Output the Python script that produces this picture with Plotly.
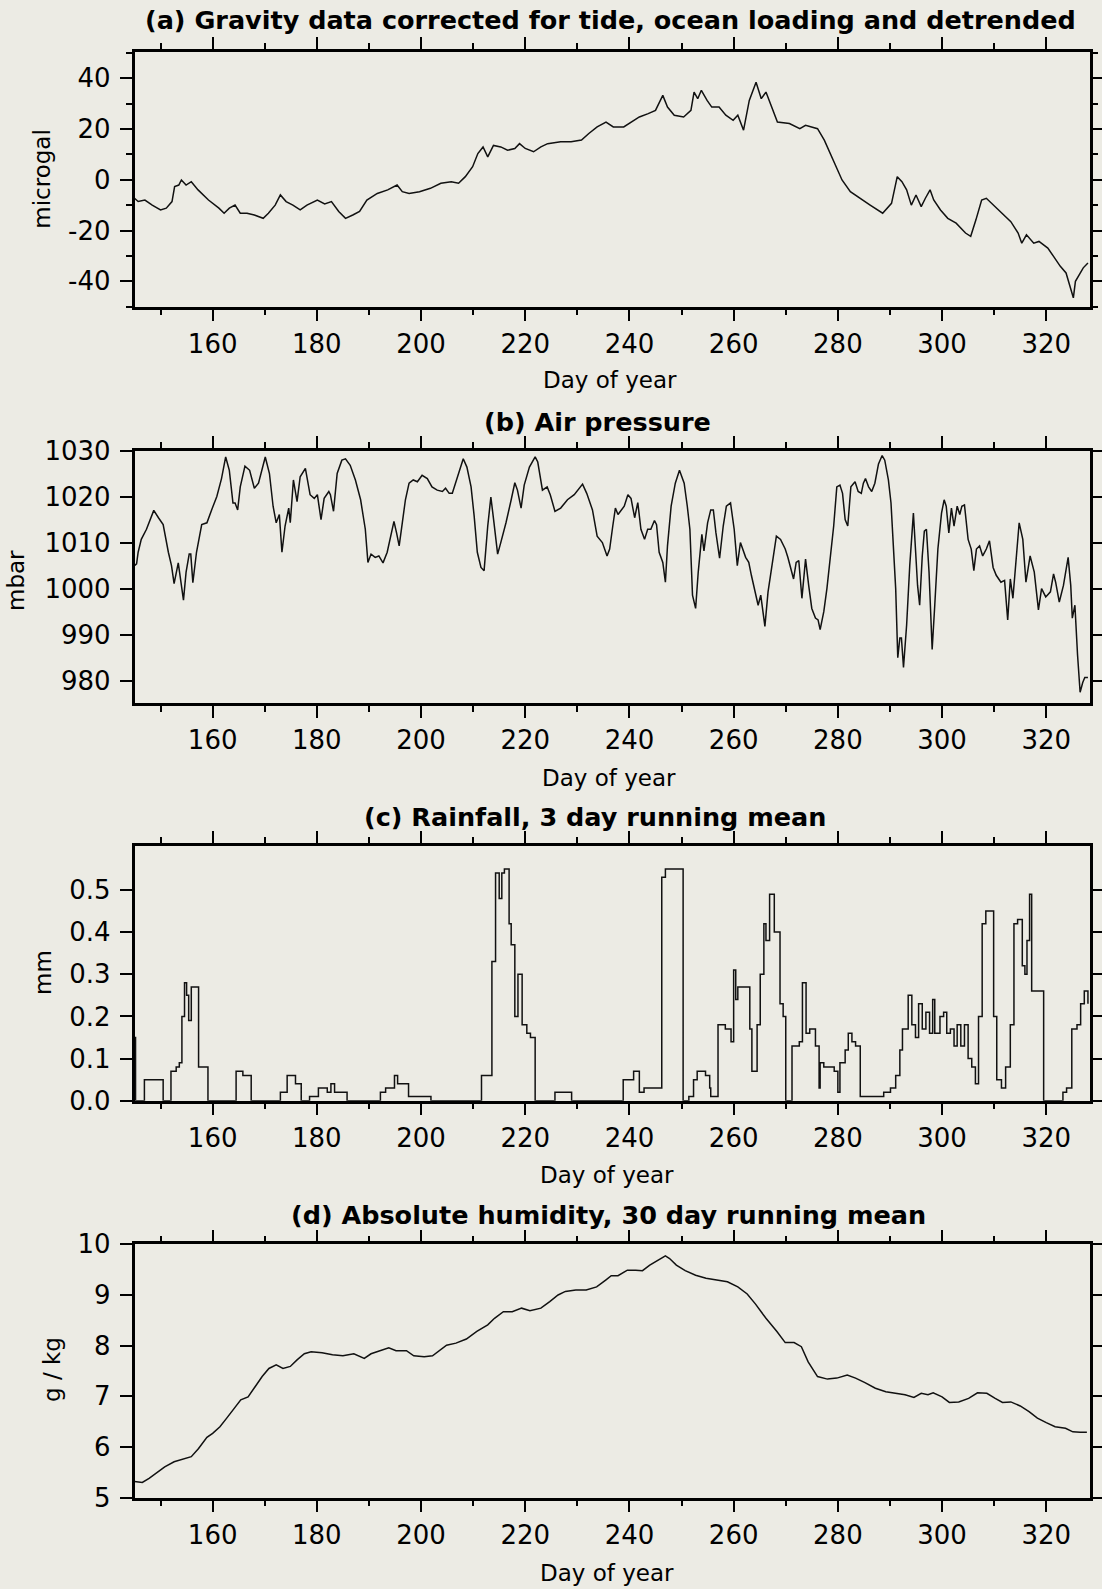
import plotly.graph_objects as go

# ---------------- data ----------------
# (a) gravity residual, microgal
GRAVITY = [
    (145.0, -7.3), (145.7, -8.6), (147.0, -8.0), (148.4, -10.0), (150.0, -11.9), (151.1, -11.2),
    (152.2, -8.6), (152.7, -2.7), (153.5, -2.1), (154.0, -0.1), (154.9, -2.1), (155.9, -0.8),
    (157.2, -4.0), (159.2, -8.0), (161.2, -11.2), (162.2, -13.2), (163.2, -11.2), (164.3, -10.0),
    (165.3, -13.2), (166.6, -13.2), (168.0, -13.9), (169.7, -15.2), (170.7, -13.2), (172.0, -10.0),
    (173.0, -6.0), (174.1, -8.6), (175.4, -10.0), (176.8, -11.9), (178.1, -10.0), (180.1, -8.0),
    (181.5, -9.5), (182.8, -8.6), (184.2, -12.5), (185.5, -15.2), (186.9, -13.9), (188.2, -12.5),
    (189.6, -8.0), (191.6, -5.4), (193.6, -4.0), (195.4, -2.1), (196.4, -4.7), (197.7, -5.4),
    (199.7, -4.7), (201.8, -3.4), (203.8, -1.4), (205.8, -0.8), (207.2, -1.4), (208.5, 1.2),
    (209.9, 5.1), (210.9, 10.3), (211.9, 12.9), (212.8, 9.0), (213.9, 13.5), (215.3, 12.9),
    (216.6, 11.6), (218.0, 12.3), (218.9, 14.2), (220.0, 12.3), (221.6, 11.0), (223.0, 12.9),
    (224.3, 14.2), (226.8, 14.9), (228.8, 14.9), (230.8, 15.6), (232.2, 18.2), (233.8, 20.8),
    (235.5, 22.7), (236.9, 20.8), (238.9, 20.8), (240.3, 22.7), (241.9, 24.7), (243.6, 26.0),
    (245.0, 27.3), (246.4, 33.2), (247.3, 28.6), (248.6, 25.4), (250.4, 24.7), (251.8, 27.3),
    (252.4, 34.5), (253.1, 31.9), (253.8, 35.2), (254.9, 31.2), (255.8, 28.6), (257.2, 28.6),
    (258.5, 25.4), (259.9, 23.4), (260.8, 25.4), (261.9, 19.5), (263.0, 31.2), (264.3, 38.4),
    (265.3, 31.9), (266.2, 34.5), (267.3, 28.6), (268.4, 22.7), (270.7, 22.1), (272.7, 20.1),
    (273.8, 21.4), (276.1, 20.1), (277.4, 15.6), (278.8, 9.0), (280.8, -0.1), (282.4, -4.7),
    (284.2, -7.3), (286.2, -10.0), (288.6, -13.2), (290.3, -9.3), (291.4, 1.2), (292.3, -0.8),
    (293.2, -4.0), (294.1, -10.0), (295.0, -6.0), (296.0, -10.6), (296.8, -7.3), (297.7, -4.0),
    (298.4, -8.0), (299.7, -11.9), (301.1, -15.2), (302.7, -17.1), (304.5, -21.0), (305.5, -22.3),
    (306.5, -15.8), (307.6, -8.0), (308.5, -7.3), (309.9, -10.0), (311.6, -13.2), (313.2, -16.5),
    (314.6, -21.0), (315.3, -25.0), (316.2, -21.7), (317.6, -25.0), (318.6, -24.3), (320.3, -26.9),
    (321.4, -30.2), (322.7, -34.1), (323.8, -36.7), (325.2, -46.5), (325.6, -40.0), (327.1, -34.7),
    (328.0, -32.8),
]

# (b) air pressure, mbar
PRESSURE = [
    (145.0, 1005.0), (145.4, 1005.4), (145.7, 1007.9), (146.3, 1010.7), (147.3, 1012.9), (148.7, 1017.0),
    (149.6, 1015.4), (150.5, 1013.9), (151.5, 1007.9), (152.1, 1005.0), (152.6, 1001.1), (153.4, 1005.6),
    (154.4, 997.5), (154.9, 1003.6), (155.5, 1007.5), (155.8, 1007.5), (156.2, 1001.3), (156.9, 1007.9),
    (157.9, 1013.9), (158.9, 1014.3), (159.8, 1017.1), (160.8, 1020.0), (161.7, 1023.9), (162.5, 1028.6),
    (163.2, 1025.7), (163.9, 1018.6), (164.3, 1018.6), (164.8, 1017.1), (165.3, 1022.1), (166.2, 1026.6),
    (167.1, 1025.7), (168.0, 1021.8), (168.8, 1022.9), (170.1, 1028.6), (170.9, 1025.0), (171.6, 1017.9),
    (172.2, 1014.3), (172.8, 1016.1), (173.3, 1007.9), (173.9, 1013.6), (174.6, 1017.5), (174.9, 1014.3),
    (175.5, 1023.6), (176.2, 1018.9), (176.8, 1024.3), (177.8, 1026.1), (178.7, 1020.4), (179.5, 1019.6),
    (180.1, 1020.4), (180.8, 1015.0), (181.4, 1019.6), (182.3, 1021.1), (182.6, 1020.4), (183.2, 1016.8),
    (183.9, 1025.0), (184.8, 1027.9), (185.5, 1028.2), (186.4, 1026.8), (187.4, 1023.6), (188.4, 1019.3),
    (189.3, 1012.9), (189.8, 1005.7), (190.4, 1007.5), (191.2, 1006.8), (191.9, 1007.1), (192.7, 1005.6),
    (193.5, 1007.9), (194.1, 1010.7), (194.8, 1014.6), (195.3, 1012.1), (195.8, 1009.3), (196.4, 1014.3),
    (197.0, 1019.3), (197.7, 1022.9), (198.5, 1023.6), (199.3, 1023.2), (200.2, 1024.6), (201.2, 1023.9),
    (202.1, 1022.1), (203.1, 1021.4), (204.1, 1021.1), (204.7, 1021.8), (205.4, 1020.7), (206.0, 1020.7),
    (206.6, 1022.9), (207.3, 1025.7), (208.1, 1028.2), (208.8, 1026.4), (209.6, 1022.1), (210.2, 1015.7),
    (210.8, 1007.9), (211.5, 1004.6), (212.1, 1003.9), (212.8, 1013.6), (213.4, 1019.9), (214.0, 1014.3),
    (214.7, 1007.5), (215.3, 1010.0), (216.3, 1014.3), (217.3, 1019.3), (218.0, 1023.0), (218.5, 1021.4),
    (219.2, 1017.5), (219.8, 1022.5), (220.8, 1026.4), (221.9, 1028.6), (222.4, 1027.5), (223.3, 1021.4),
    (224.2, 1022.1), (224.8, 1020.4), (225.7, 1016.8), (226.8, 1017.5), (228.1, 1019.3), (229.4, 1020.4),
    (230.4, 1021.8), (231.0, 1022.7), (231.8, 1020.7), (232.9, 1017.1), (233.8, 1011.4), (234.8, 1010.0),
    (235.7, 1007.1), (236.2, 1008.6), (236.8, 1013.6), (237.3, 1017.5), (237.8, 1016.1), (238.4, 1017.1),
    (239.0, 1017.9), (239.7, 1020.4), (240.3, 1019.6), (241.0, 1015.4), (241.6, 1018.7), (242.2, 1012.9),
    (242.9, 1010.7), (243.5, 1012.9), (244.1, 1012.9), (244.8, 1014.8), (245.2, 1013.9), (245.7, 1007.9),
    (246.4, 1005.7), (246.9, 1001.4), (247.3, 1009.3), (248.0, 1017.9), (248.8, 1022.9), (249.6, 1025.7),
    (250.5, 1022.9), (251.1, 1017.9), (251.6, 1012.9), (252.1, 998.6), (252.7, 995.7), (253.2, 1003.6),
    (253.9, 1011.8), (254.3, 1008.2), (255.0, 1014.3), (255.6, 1017.1), (256.1, 1017.1), (256.6, 1012.1),
    (257.3, 1006.6), (258.0, 1013.6), (258.6, 1017.9), (259.4, 1018.6), (260.1, 1012.9), (260.7, 1005.0),
    (261.3, 1010.0), (262.3, 1006.8), (262.9, 1005.7), (263.4, 1002.9), (264.2, 998.6), (264.7, 996.4),
    (265.2, 998.6), (265.6, 995.0), (266.0, 991.8), (266.6, 999.3), (267.4, 1005.4), (268.2, 1011.4),
    (269.0, 1010.7), (269.9, 1008.6), (270.4, 1006.8), (270.9, 1004.6), (271.5, 1002.1), (272.0, 1005.7),
    (272.5, 1006.1), (273.1, 997.9), (273.8, 1006.4), (274.4, 1000.7), (275.0, 995.7), (275.7, 993.6),
    (276.2, 993.2), (276.6, 991.1), (277.3, 995.0), (277.9, 1000.0), (278.5, 1005.7), (279.2, 1013.6),
    (279.8, 1022.1), (280.4, 1022.5), (280.9, 1020.7), (281.4, 1015.0), (281.9, 1013.6), (282.5, 1022.1),
    (283.3, 1023.2), (283.9, 1021.1), (284.5, 1020.7), (284.9, 1022.9), (285.3, 1023.9), (285.9, 1022.1),
    (286.5, 1021.1), (287.1, 1022.9), (287.8, 1027.1), (288.5, 1028.9), (289.0, 1027.9), (289.7, 1023.6),
    (290.2, 1018.6), (290.6, 1010.7), (291.1, 1000.0), (291.5, 985.0), (291.9, 989.3), (292.2, 989.3),
    (292.6, 982.9), (293.2, 992.1), (293.8, 1005.0), (294.5, 1016.4), (294.9, 1007.1), (295.3, 1000.7),
    (295.7, 996.4), (296.2, 1007.1), (296.6, 1012.5), (297.0, 1012.9), (297.5, 1003.6), (298.1, 986.8),
    (298.6, 996.4), (299.2, 1008.6), (299.9, 1016.4), (300.4, 1019.3), (300.8, 1017.9), (301.3, 1012.1),
    (301.8, 1017.5), (302.3, 1013.6), (302.9, 1017.9), (303.4, 1016.1), (303.8, 1017.9), (304.3, 1018.2),
    (305.0, 1010.7), (305.6, 1008.6), (306.1, 1003.9), (306.6, 1008.6), (307.2, 1009.3), (307.8, 1007.1),
    (308.5, 1008.6), (309.1, 1010.4), (309.8, 1004.6), (310.4, 1002.9), (311.3, 1001.4), (312.0, 1001.8),
    (312.6, 993.2), (313.1, 1002.1), (313.6, 997.9), (314.2, 1005.7), (314.8, 1014.3), (315.5, 1010.7),
    (316.1, 1001.4), (316.9, 1007.1), (317.7, 1003.6), (318.5, 995.4), (319.1, 1000.0), (319.9, 998.2),
    (320.8, 999.3), (321.4, 1003.2), (321.8, 1001.4), (322.5, 997.1), (323.3, 1000.7), (324.2, 1006.8),
    (324.7, 1000.7), (325.0, 993.6), (325.5, 996.4), (326.0, 985.7), (326.5, 977.5), (327.0, 979.6),
    (327.4, 980.7), (328.0, 980.7),
]

# (c) rainfall, 3 day running mean, mm (value holds until the next day listed)
RAINFALL = [
    (145.0, 0.15), (145.2, 0.0), (146.9, 0.05), (150.5, 0.0), (152.0, 0.07), (153.0, 0.08),
    (153.6, 0.09), (154.1, 0.20), (154.6, 0.28), (155.0, 0.25), (155.4, 0.19), (155.9, 0.27),
    (157.3, 0.08), (159.1, 0.0), (164.5, 0.07), (165.8, 0.06), (167.4, 0.0), (173.0, 0.02),
    (174.3, 0.06), (175.9, 0.04), (177.0, 0.0), (178.6, 0.01), (180.3, 0.03), (182.0, 0.02),
    (182.7, 0.04), (183.4, 0.02), (185.8, 0.0), (192.2, 0.02), (193.2, 0.03), (194.9, 0.06),
    (195.5, 0.04), (197.6, 0.01), (201.9, 0.0), (211.6, 0.06), (213.6, 0.33), (214.3, 0.54),
    (215.0, 0.48), (215.5, 0.54), (216.0, 0.55), (216.9, 0.42), (217.3, 0.37), (218.0, 0.20),
    (218.6, 0.30), (219.4, 0.18), (220.3, 0.16), (221.0, 0.15), (221.9, 0.0), (225.7, 0.02),
    (228.9, 0.0), (238.8, 0.05), (240.8, 0.07), (241.9, 0.02), (242.8, 0.03), (246.2, 0.53),
    (246.9, 0.55), (250.3, 0.0), (251.4, 0.01), (252.3, 0.05), (253.0, 0.07), (254.6, 0.06),
    (255.4, 0.03), (255.6, 0.01), (257.0, 0.18), (258.4, 0.17), (259.5, 0.14), (260.0, 0.31),
    (260.4, 0.24), (260.8, 0.27), (263.1, 0.17), (263.5, 0.07), (264.5, 0.18), (265.1, 0.30),
    (265.8, 0.42), (266.2, 0.38), (266.9, 0.49), (267.8, 0.40), (268.9, 0.23), (269.5, 0.20),
    (270.0, 0.0), (271.2, 0.13), (272.6, 0.14), (273.2, 0.28), (273.9, 0.16), (274.6, 0.17),
    (275.7, 0.13), (276.4, 0.03), (276.6, 0.09), (277.3, 0.08), (279.3, 0.07), (280.0, 0.02),
    (280.4, 0.09), (281.4, 0.12), (282.0, 0.16), (282.7, 0.14), (283.4, 0.13), (284.3, 0.01),
    (288.8, 0.02), (290.1, 0.03), (291.1, 0.06), (291.9, 0.12), (292.4, 0.17), (293.5, 0.25),
    (294.2, 0.18), (294.9, 0.15), (295.5, 0.23), (296.2, 0.17), (296.9, 0.21), (297.6, 0.16),
    (298.2, 0.24), (298.6, 0.16), (299.6, 0.20), (300.3, 0.21), (300.9, 0.16), (301.6, 0.17),
    (302.3, 0.13), (302.9, 0.18), (303.6, 0.13), (304.3, 0.18), (305.0, 0.10), (305.7, 0.08),
    (306.4, 0.04), (307.0, 0.20), (307.7, 0.42), (308.4, 0.45), (309.9, 0.20), (310.5, 0.05),
    (311.4, 0.03), (312.2, 0.08), (313.1, 0.18), (313.8, 0.42), (314.5, 0.43), (315.4, 0.32),
    (315.9, 0.30), (316.3, 0.38), (316.8, 0.49), (317.2, 0.26), (319.5, 0.0), (323.2, 0.02),
    (323.9, 0.03), (324.9, 0.17), (325.9, 0.18), (326.6, 0.23), (327.3, 0.26), (328.0, 0.23),
]

# (d) absolute humidity, 30 day running mean, g/kg
HUMIDITY = [
    (145.0, 5.32), (146.5, 5.30), (147.8, 5.38), (149.2, 5.48), (150.8, 5.61), (152.6, 5.71),
    (154.6, 5.78), (155.9, 5.81), (157.3, 5.97), (158.9, 6.19), (160.0, 6.27), (161.4, 6.40),
    (162.7, 6.57), (164.1, 6.76), (165.4, 6.93), (166.8, 6.99), (168.1, 7.19), (169.5, 7.39),
    (170.8, 7.55), (172.2, 7.62), (173.5, 7.55), (174.9, 7.59), (176.2, 7.72), (177.6, 7.84),
    (178.9, 7.88), (181.0, 7.86), (183.0, 7.82), (185.0, 7.80), (187.1, 7.84), (189.1, 7.75),
    (190.4, 7.84), (192.5, 7.91), (193.8, 7.96), (195.2, 7.90), (197.2, 7.90), (198.6, 7.80),
    (200.6, 7.78), (202.2, 7.80), (203.6, 7.91), (204.9, 8.01), (206.7, 8.05), (208.7, 8.13),
    (210.7, 8.28), (212.8, 8.41), (214.1, 8.54), (215.8, 8.67), (217.5, 8.67), (219.3, 8.74),
    (220.9, 8.69), (223.0, 8.74), (224.7, 8.87), (226.3, 9.00), (227.7, 9.07), (229.7, 9.10),
    (231.7, 9.10), (233.7, 9.16), (235.5, 9.30), (236.5, 9.38), (237.8, 9.38), (239.6, 9.49),
    (241.2, 9.49), (242.5, 9.48), (243.9, 9.59), (245.5, 9.69), (246.9, 9.77), (247.7, 9.72),
    (249.0, 9.59), (250.7, 9.48), (252.7, 9.39), (254.7, 9.33), (256.8, 9.30), (258.8, 9.26),
    (260.8, 9.16), (262.6, 9.02), (264.2, 8.82), (266.2, 8.54), (268.3, 8.28), (269.9, 8.06),
    (271.6, 8.06), (273.0, 7.98), (274.3, 7.68), (276.1, 7.39), (278.0, 7.34), (279.8, 7.36),
    (281.8, 7.42), (283.4, 7.36), (285.2, 7.27), (287.2, 7.16), (289.2, 7.09), (291.0, 7.06),
    (292.9, 7.03), (294.6, 6.98), (296.0, 7.06), (297.3, 7.03), (298.3, 7.07), (300.0, 6.99),
    (301.4, 6.88), (303.2, 6.89), (305.1, 6.96), (306.8, 7.07), (308.6, 7.06), (310.2, 6.96),
    (311.6, 6.88), (313.2, 6.89), (315.0, 6.81), (316.7, 6.70), (318.3, 6.57), (320.0, 6.48),
    (321.7, 6.40), (323.7, 6.37), (325.1, 6.30), (326.5, 6.29), (327.8, 6.29),
]

PANEL_TITLES = [
    "(a) Gravity data corrected for tide, ocean loading and detrended",
    "(b) Air pressure",
    "(c) Rainfall, 3 day running mean",
    "(d) Absolute humidity, 30 day running mean",
]
Y_TITLES = ["microgal", "mbar", "mm", "g / kg"]
X_TITLE = "Day of year"
GRAV_TICKS = [-40, -20, 0, 20, 40]
RAIN_TICKS = [0.0, 0.1, 0.2, 0.3, 0.4, 0.5]

# ---------------- layout geometry (pixels) ----------------
W, H = 1102, 1589
PLOT_L, PLOT_R = 134.5, 1089.5
PANELS = [  # top, bottom of each frame
    (51.7, 306.7),
    (450.5, 703.3),
    (845.7, 1100.7),
    (1244.3, 1497.7),
]
TITLE_POS = [(610, 20), (597, 421.7), (595, 816.7), (608, 1215)]
XTITLE_POS = [(610, 380), (609, 778), (607, 1175), (606.5, 1573)]
YTITLE_POS = [(41.7, 179), (16, 581), (43, 973), (52, 1370)]

BG = "#ecebe4"
FONT = "DejaVu Sans"


def fx(px):
    return px / W


def fy(py):
    return 1 - py / H


series = [GRAVITY, PRESSURE, RAINFALL, HUMIDITY]
fig = go.Figure()
for i, s in enumerate(series):
    xs = [p[0] for p in s]
    ys = [p[1] for p in s]
    fig.add_trace(go.Scatter(
        x=xs, y=ys, mode="lines",
        line=dict(color="#111111", width=1.5, shape="hv" if i == 2 else "linear"),
        xaxis="x" if i == 0 else f"x{i+1}",
        yaxis="y" if i == 0 else f"y{i+1}",
        showlegend=False, hoverinfo="skip",
    ))

common = dict(
    showline=True, linecolor="black", linewidth=2.5, mirror="ticks",
    ticks="outside", ticklen=12, tickwidth=1.6, tickcolor="black",
    showgrid=False, zeroline=False, automargin=False,
    tickfont=dict(family=FONT, size=26, color="black"),
)

y_specs = [
    dict(range=[-50, 50.4], tickmode="array", tickvals=GRAV_TICKS,
         ticktext=[str(v) for v in GRAV_TICKS],
         minor=dict(tickmode="linear", tick0=0, dtick=10, ticks="outside", ticklen=6,
                    tickwidth=1.6, tickcolor="black")),
    dict(range=[975.1, 1030], tickmode="linear", tick0=0, dtick=10),
    dict(range=[0, 0.605], tickmode="array", tickvals=RAIN_TICKS,
         ticktext=[f"{v:.1f}" for v in RAIN_TICKS]),
    dict(range=[5, 10], tickmode="linear", tick0=0, dtick=1),
]

layout = dict(
    width=W, height=H, margin=dict(l=0, r=0, t=0, b=0, pad=0),
    paper_bgcolor=BG, plot_bgcolor=BG, showlegend=False,
)
for i, (top, bot) in enumerate(PANELS):
    xk = "xaxis" if i == 0 else f"xaxis{i+1}"
    yk = "yaxis" if i == 0 else f"yaxis{i+1}"
    ya = "y" if i == 0 else f"y{i+1}"
    xa = "x" if i == 0 else f"x{i+1}"
    layout[xk] = dict(
        common, domain=[fx(PLOT_L), fx(PLOT_R)], anchor=ya, range=[145, 328.3],
        tickmode="linear", tick0=0, dtick=20, ticklabelstandoff=0,
        minor=dict(tickmode="linear", tick0=0, dtick=10, ticks="outside", ticklen=6,
                   tickwidth=1.6, tickcolor="black"),
    )
    layout[yk] = dict(common, domain=[fy(bot), fy(top)], anchor=xa,
                      ticklabelstandoff=4, **y_specs[i])

annotations = []
for i in range(4):
    tx, ty = TITLE_POS[i]
    annotations.append(dict(
        text=PANEL_TITLES[i], x=fx(tx), y=fy(ty), xref="paper", yref="paper",
        xanchor="center", yanchor="middle", showarrow=False,
        font=dict(family=FONT, size=25.5, color="black", weight="bold"),
    ))
    xx, xy = XTITLE_POS[i]
    annotations.append(dict(
        text=X_TITLE, x=fx(xx), y=fy(xy), xref="paper", yref="paper",
        xanchor="center", yanchor="middle", showarrow=False,
        font=dict(family=FONT, size=23, color="black"),
    ))
    yx, yy = YTITLE_POS[i]
    annotations.append(dict(
        text=Y_TITLES[i], x=fx(yx), y=fy(yy), xref="paper", yref="paper",
        xanchor="center", yanchor="middle", showarrow=False, textangle=-90,
        font=dict(family=FONT, size=23, color="black"),
    ))
layout["annotations"] = annotations

fig.update_layout(**layout)
fig.write_html("out.html")
